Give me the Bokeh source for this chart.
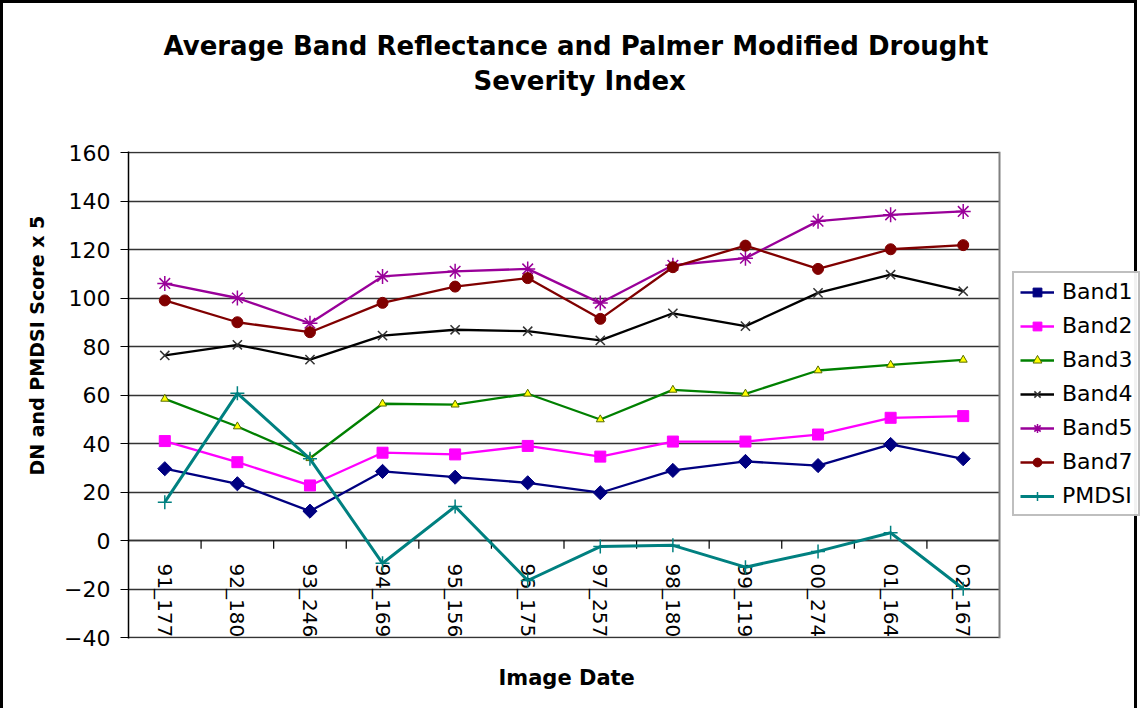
import math
from bokeh.plotting import figure
from bokeh.models import Range1d, FixedTicker, Legend, LegendItem, Title, Span
from bokeh.core.properties import value
from bokeh.embed import file_html
from bokeh.resources import INLINE

dates = ["91_177", "92_180", "93_246", "94_169", "95_156", "96_175",
         "97_257", "98_180", "99_119", "00_274", "01_164", "02_167"]
band1 = [29.6, 23.4, 12.1, 28.5, 26.1, 23.8, 19.7, 28.9, 32.6, 30.9, 39.6, 33.7]
band2 = [41.0, 32.3, 22.7, 36.2, 35.5, 39.0, 34.6, 40.8, 40.8, 43.7, 50.6, 51.3]
band3 = [58.4, 47.0, 33.9, 56.4, 56.0, 60.5, 49.9, 62.1, 60.5, 70.1, 72.4, 74.5]
band4 = [76.3, 80.7, 74.6, 84.5, 86.9, 86.3, 82.5, 93.7, 88.4, 102.1, 109.6, 102.8]
band5 = [106.0, 100.0, 89.6, 108.9, 111.0, 112.0, 97.9, 113.5, 116.4, 131.7, 134.3, 135.7]
band7 = [99.0, 90.0, 85.9, 98.0, 104.7, 108.2, 91.4, 112.7, 121.6, 112.0, 120.1, 121.8]
pmdsi = [15.8, 60.7, 33.7, -9.4, 14.0, -16.5, -2.5, -2.0, -11.0, -4.5, 3.2, -19.9]
y_ticks = [-40, -20, 0, 20, 40, 60, 80, 100, 120, 140, 160]

FONT = "DejaVu Sans"
n = len(dates)
xs = list(range(n))

# layout (pixels): plot area 871 px wide for the categories; the frame also
# holds the legend area to the right of the plot area
CANVAS_W, CANVAS_H = 1137, 708
LEFT, TOP, BOTTOM = 125, 148, 73
PLOT_W, PLOT_H = 871, 485
frame_w = CANVAS_W - LEFT
x_end = -0.5 + frame_w * n / PLOT_W
pad = 1.0 * 200 / PLOT_H  # one pixel of padding in data units

p = figure(width=CANVAS_W, height=CANVAS_H, output_backend="svg", toolbar_location=None,
           x_range=Range1d(-0.5, x_end), y_range=Range1d(-40 - pad, 160 + pad),
           x_axis_location=None,
           min_border_left=LEFT, min_border_right=0, min_border_top=TOP,
           min_border_bottom=BOTTOM)
p.styles = {"border-left": "3px solid black", "border-top": "3px solid black",
            "border-right": "3px solid black"}
p.background_fill_color = "white"
p.border_fill_color = "white"
p.outline_line_color = None

p.xgrid.visible = False
p.ygrid.ticker = FixedTicker(ticks=y_ticks)
p.ygrid.grid_line_color = "#333333"
p.ygrid.grid_line_width = 1.3
try:
    p.ygrid.cross_bounds = (-0.5, n - 0.5)
    manual_grid = False
except Exception:
    p.ygrid.visible = False
    manual_grid = True
if manual_grid:
    p.segment(x0=[-0.5] * len(y_ticks), y0=y_ticks, x1=[n - 0.5] * len(y_ticks),
              y1=y_ticks, line_color="#333333", line_width=1.3)

# right edge of the plot area
p.add_layout(Span(location=n - 0.5, dimension="height", line_color="#808080",
                  line_width=2))

ya = p.yaxis[0]
ya.ticker = FixedTicker(ticks=y_ticks)
ya.axis_line_color = "black"
ya.axis_line_width = 1.5
ya.major_tick_line_color = "black"
ya.major_tick_in = 0
ya.major_tick_out = 8
ya.minor_tick_line_color = None
ya.major_label_standoff = 10
ya.major_label_text_font = FONT
ya.major_label_text_font_size = "22px"
ya.major_label_text_color = "black"

# category axis at y = 0 with tick marks between categories
p.line(x=[-0.5, n - 0.5], y=[0, 0], line_color="#333333", line_width=1.5)
bounds = [i + 0.5 for i in range(n - 1)]
p.segment(x0=bounds, y0=[0] * len(bounds), x1=bounds, y1=[-3.4] * len(bounds),
          line_color="black", line_width=1.2)
p.text(x=xs, y=[-9.5] * n, text=dates, angle=-math.pi / 2,
       text_align="left", text_baseline="middle", text_font=value(FONT),
       text_font_size="20px", text_color="black")

series = [
    ("Band1", band1, "#000080", dict(marker="square", angle=math.pi / 4, size=10, fill_color="#000080", line_color="#000080"), 2.3),
    ("Band2", band2, "#FF00FF", dict(marker="square", size=11, fill_color="#FF00FF", line_color="#FF00FF"), 2.3),
    ("Band3", band3, "#008000", dict(marker="triangle", size=8, fill_color="#FFFF00", line_color="#556B00", line_width=1), 2.3),
    ("Band4", band4, "#000000", dict(marker="x", size=13, line_color="#333333", line_width=1.5), 2.3),
    ("Band5", band5, "#990099", dict(marker="asterisk", size=15, line_color="#990099", line_width=1.5), 2.3),
    ("Band7", band7, "#800000", dict(marker="circle", size=11, fill_color="#800000", line_color="#800000"), 2.3),
    ("PMDSI", pmdsi, "#008080", dict(marker="cross", size=14, line_color="#008080", line_width=1.5), 3.0),
]

items = []
for name, vals, col, mk, lw in series:
    lr = p.line(x=xs, y=vals, line_color=col, line_width=lw)
    sr = p.scatter(x=xs, y=vals, **mk)
    items.append(LegendItem(label=name, renderers=[lr, sr]))

legend = Legend(items=items, location=(PLOT_W + 13, 122), orientation="vertical")
legend.label_text_font = FONT
legend.label_text_font_size = "22px"
legend.label_text_color = "black"
legend.glyph_width = 34
legend.glyph_height = 22
legend.label_height = 22
legend.label_standoff = 8
legend.spacing = 9
legend.padding = 6
legend.margin = 0
legend.border_line_color = "#808080"
legend.border_line_width = 2
legend.background_fill_color = "white"
p.add_layout(legend, "center")

# title lines (nearest to the frame first)
p.add_layout(Title(text=" ", text_font_size="1px", standoff=51), "above")
p.add_layout(Title(text="Severity Index", align="left", offset=345,
                   vertical_align="bottom", standoff=4,
                   text_font=FONT, text_font_size="26px", text_font_style="bold",
                   text_color="black"), "above")
p.add_layout(Title(text="Average Band Reflectance and Palmer Modified Drought",
                   align="left", offset=35, vertical_align="bottom", standoff=2,
                   text_font=FONT, text_font_size="26px", text_font_style="bold",
                   text_color="black"), "above")

# axis titles
p.add_layout(Title(text=" ", text_font_size="1px", standoff=24), "below")
p.add_layout(Title(text="Image Date", align="left", offset=370,
                   vertical_align="top", standoff=0,
                   text_font=FONT, text_font_size="21px", text_font_style="bold",
                   text_color="black"), "below")
p.add_layout(Title(text="DN and PMDSI Score x 5", align="left", offset=163,
                   vertical_align="bottom", standoff=28,
                   text_font=FONT, text_font_size="19px", text_font_style="bold",
                   text_color="black"), "left")

open("out.html", "w").write(file_html(p, INLINE))
